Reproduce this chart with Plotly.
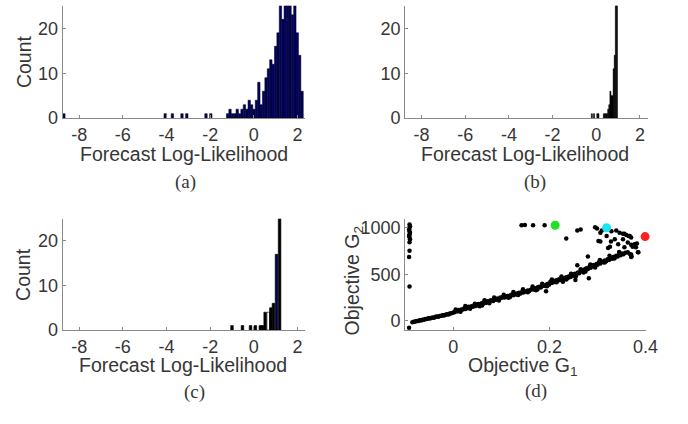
import plotly.graph_objects as go

# ---------------- data ----------------
# (a) histogram: bin centers and counts
a_centers = [-8.70, -4.06, -3.73, -3.29, -3.07, -2.19, -1.97, -1.20, -1.09, -0.98, -0.87,
             -0.76, -0.65, -0.54, -0.43, -0.32, -0.21, -0.10, 0.01, 0.12, 0.23, 0.34,
             0.45, 0.56, 0.67, 0.78, 0.89, 1.00, 1.11, 1.22, 1.33, 1.44, 1.55, 1.66,
             1.77, 1.88, 1.99, 2.10, 2.21]
a_counts = [1, 1, 1, 1, 1, 1, 1, 1, 2, 1, 1,
            2, 1, 2, 3, 2, 4, 3, 2, 4, 8, 3,
            6, 9, 11, 13, 12, 16, 19, 28, 22, 30, 34, 30,
            23, 30, 19, 14, 6]

# (b) histogram
b_centers = [-0.20, -0.10, 0.05, 0.10, 0.35, 0.40, 0.45, 0.50, 0.55, 0.60, 0.65,
             0.70, 0.75, 0.80, 0.85, 0.90, 0.95]
b_counts = [1, 1, 1, 1, 1, 1, 1, 1, 2, 3, 6, 5, 5, 11, 14, 40, 40]

# (c) histogram
c_centers = [-1.00, -0.52, -0.15, 0.07, 0.30, 0.40, 0.52, 0.66, 0.78, 0.90, 1.04, 1.18]
c_counts = [1, 1, 1, 1, 1, 1, 4, 4, 5, 6, 17, 30]

# histogram axis ticks
h_ticks = [-8, -6, -4, -2, 0, 2]
h_ticklabels = ['-8', '-6', '-4', '-2', '0', '2']
count_ticks = [0, 10, 20]

# (d) scatter of objectives
g1 = [
    # vertical column at the left edge
    -0.091, -0.090, -0.091, -0.092, -0.091, -0.090, -0.091, -0.092, -0.091, -0.090,
    -0.091, -0.091, -0.092, -0.091, -0.092,
    # main band
    -0.085, -0.082, -0.079, -0.076, -0.073, -0.070, -0.067, -0.064, -0.061, -0.058,
    -0.055, -0.052, -0.049, -0.046, -0.043, -0.040, -0.037, -0.034, -0.031, -0.028,
    -0.025, -0.022, -0.019, -0.016, -0.013, -0.010, -0.007, -0.004, -0.001,
    0.002, 0.005, 0.008, 0.011, 0.014, 0.017, 0.020, 0.023, 0.026, 0.029, 0.032,
    0.035, 0.038, 0.041, 0.044, 0.047, 0.050, 0.053, 0.056, 0.059, 0.062, 0.065,
    0.068, 0.071, 0.074, 0.077, 0.080, 0.083, 0.086, 0.089, 0.092, 0.095, 0.098,
    0.101, 0.104, 0.107, 0.110, 0.113, 0.116, 0.119, 0.122, 0.125, 0.128, 0.131,
    0.134, 0.137, 0.140, 0.143, 0.146, 0.149, 0.152, 0.155, 0.158, 0.161, 0.164,
    0.167, 0.170, 0.173, 0.176, 0.179, 0.182, 0.185, 0.188, 0.191, 0.194, 0.197, 0.199,
    0.202, 0.205, 0.208, 0.211, 0.214, 0.217, 0.220, 0.223, 0.226, 0.229, 0.232,
    0.235, 0.238, 0.241, 0.244, 0.247, 0.250, 0.253, 0.256, 0.259, 0.262, 0.265,
    0.268, 0.271, 0.274, 0.277, 0.280, 0.283, 0.286, 0.289, 0.292, 0.295, 0.298, 0.300,
    0.303, 0.306, 0.309, 0.312, 0.315, 0.318, 0.321, 0.324, 0.327, 0.330, 0.333,
    0.336, 0.339, 0.342, 0.345, 0.348, 0.351, 0.354, 0.358,
    # spread of the band
    0.005, 0.015, 0.025, 0.035, 0.045, 0.055, 0.065, 0.075, 0.085, 0.095, 0.105,
    0.115, 0.125, 0.135, 0.145, 0.155, 0.165, 0.175, 0.185, 0.195, 0.205, 0.215,
    0.225, 0.235, 0.245, 0.255, 0.265, 0.275, 0.285, 0.295, 0.305, 0.315, 0.325,
    0.335, 0.345,
    # scattered points off the band
    0.193, 0.254, 0.282, 0.258, 0.280, 0.367, 0.370, 0.384,
    0.060, 0.118, 0.172, 0.228, 0.246, 0.271,
    # upper cloud
    0.142, 0.149, 0.166, 0.190, 0.235, 0.258, 0.265, 0.295, 0.299, 0.306, 0.309,
    0.329, 0.339, 0.346, 0.353, 0.360, 0.367, 0.370, 0.306, 0.328, 0.326, 0.322,
    0.343, 0.353, 0.363, 0.370, 0.373, 0.377, 0.382, 0.385, 0.370, 0.371,
    0.356, 0.365, 0.302, 0.336, 0.319, 0.356, 0.363, 0.380,
]
g2 = [
    1037, 1019, 1002, 985, 966, 950, 932, 915, 903, 879,
    847, 756, 686, 368, -75,
    -15, -10, -8, -2, -3, 5, 4, 12, 10, 20,
    18, 26, 24, 30, 36, 33, 42, 46, 44, 52,
    55, 60, 58, 66, 70, 68, 78, 80, 86,
    92, 104, 100, 115, 108, 122, 120, 135, 128, 142, 150,
    140, 156, 150, 168, 160, 174, 180, 172, 190, 184, 200,
    192, 210, 202, 218, 222, 214, 232, 226, 240, 234, 250,
    248, 258, 252, 262, 268, 260, 275, 282, 276, 290, 284,
    296, 302, 295, 310, 304, 318, 312, 326, 320, 335, 342,
    336, 350, 344, 360, 366, 358, 374, 382, 376, 392, 400, 388,
    420, 408, 428, 418, 436, 428, 448, 440, 456, 446, 462,
    470, 458, 480, 472, 494, 486, 506, 498, 520, 512, 534,
    548, 540, 556, 566, 558, 580, 572, 592, 600, 590, 612, 604,
    630, 618, 640, 632, 650, 642, 664, 656, 676, 668, 688,
    680, 700, 692, 712, 706, 724, 718, 732,
    122, 96, 158, 130, 184, 156, 220, 188, 250, 218, 280,
    248, 310, 278, 340, 308, 370, 338, 400, 372, 446, 414,
    478, 444, 506, 478, 556, 530, 606, 575, 655, 628, 700,
    672, 740,
    318, 440, 458, 598, 693, 721, 686, 739,
    165, 255, 330, 420, 505, 520,
    1030, 1032, 1030, 1030, 886, 974, 984, 1008, 995, 950, 974,
    966, 974, 950, 939, 924, 914, 897, 855, 855, 798, 784,
    826, 879, 844, 819, 798, 826, 834, 739, 714, 693,
    939, 914, 861, 879, 914, 792, 739, 792,
]

# highlighted solutions
hl_g1 = [0.212, 0.319, 0.399]
hl_g2 = [1030, 1002, 907]

g1_ticks = [0, 0.2, 0.4]
g2_ticks = [0, 500, 1000]

# ---------------- figure ----------------
W, H = 688, 424
def px(x):
    return x / W
def py(y):
    return 1 - y / H

TXT = '#363636'
AX = '#8a8a8a'
SANS = 'Liberation Sans, Arial, sans-serif'
SERIF = 'Liberation Serif, Times New Roman, serif'

fig = go.Figure()
fig.add_trace(go.Bar(x=a_centers, y=a_counts, width=0.11,
                     marker=dict(color='#00006a', line=dict(color='black', width=0.5)),
                     xaxis='x', yaxis='y'))
fig.add_trace(go.Bar(x=b_centers, y=b_counts, width=0.05,
                     marker=dict(color='black', line=dict(color='black', width=0.5)),
                     xaxis='x2', yaxis='y2'))
c_colors = ['black'] * len(c_counts)
c_colors[7] = 'white'
c_colors[10] = '#000050'
fig.add_trace(go.Bar(x=c_centers, y=c_counts, width=0.12,
                     marker=dict(color=c_colors, line=dict(color='black', width=0.6)),
                     xaxis='x3', yaxis='y3'))
fig.add_trace(go.Scatter(x=g1, y=g2, mode='markers',
                         marker=dict(color='black', size=4.5),
                         xaxis='x4', yaxis='y4', cliponaxis=False))
fig.add_trace(go.Scatter(x=hl_g1, y=hl_g2, mode='markers',
                         marker=dict(color=['#22e022', '#19e6f0', '#ff2020'], size=9),
                         xaxis='x4', yaxis='y4', cliponaxis=False))

def axis(domain, rng, tickvals, anchor, ticktext=None):
    d = dict(domain=domain, range=rng, tickvals=tickvals, anchor=anchor,
             showline=True, linecolor=AX, linewidth=1.3, ticks='inside', ticklen=3,
             tickcolor=AX, tickwidth=1, showgrid=False, zeroline=False,
             tickfont=dict(family=SANS, size=18, color=TXT), fixedrange=True)
    if ticktext is not None:
        d['ticktext'] = ticktext
    return d

left_dom = [px(64), px(311)]
right_dom = [px(413), px(660)]
top_dom = [py(121), py(6)]
bot_dom = [py(338), py(224)]

fig.update_layout(
    width=W, height=H, margin=dict(l=0, r=0, t=0, b=0),
    paper_bgcolor='white', plot_bgcolor='white', showlegend=False,
    xaxis=axis(left_dom, [-8.75, 2.35], h_ticks, 'y', h_ticklabels),
    yaxis=axis(top_dom, [0, 25], count_ticks, 'x'),
    xaxis2=axis(right_dom, [-8.75, 2.35], h_ticks, 'y2', h_ticklabels),
    yaxis2=axis(top_dom, [0, 25], count_ticks, 'x2'),
    xaxis3=axis(left_dom, [-8.75, 2.35], h_ticks, 'y3', h_ticklabels),
    yaxis3=axis(bot_dom, [0, 25], count_ticks, 'x3'),
    xaxis4=axis([px(413), px(658)], [-0.1, 0.4], g1_ticks, 'y4'),
    yaxis4=axis(bot_dom, [-100, 1100], g2_ticks, 'x4'),
)

def ann(text, x, y, size=19.5, family=SANS, angle=0):
    fig.add_annotation(text=text, x=px(x), y=py(y), xref='paper', yref='paper',
                       showarrow=False, textangle=angle, xanchor='center', yanchor='middle',
                       font=dict(family=family, size=size, color=TXT))

ann('Count', 24, 63, angle=-90)
ann('Count', 24, 281, angle=-90)
ann('Forecast Log-Likelihood', 188, 158)
ann('Forecast Log-Likelihood', 535, 158)
ann('Forecast Log-Likelihood', 187, 374)
ann('Objective G<sub>1</sub>', 533, 375)
ann('Objective G<sub>2</sub>', 360, 288, angle=-90)
ann('(a)', 189, 186, size=19, family=SERIF)
ann('(b)', 545, 186, size=19, family=SERIF)
ann('(c)', 198, 401, size=19, family=SERIF)
ann('(d)', 546, 400, size=19, family=SERIF)

fig.write_html('out.html')
